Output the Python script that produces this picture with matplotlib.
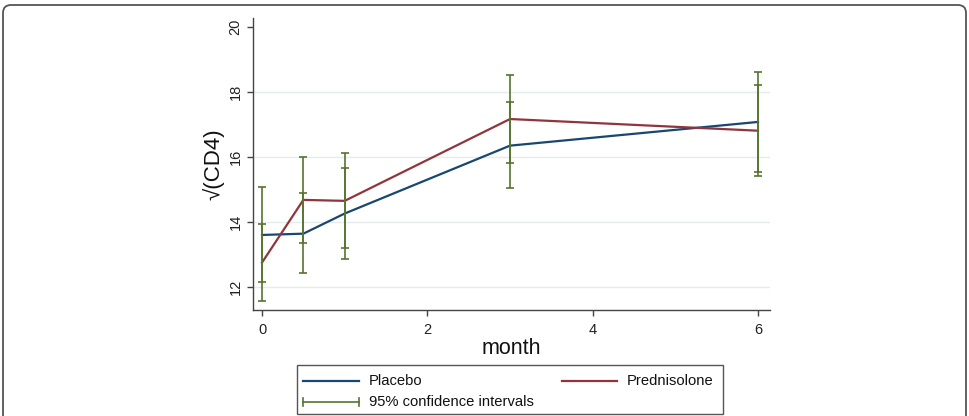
import matplotlib
matplotlib.use("Agg")
import matplotlib.pyplot as plt
from matplotlib.patches import FancyBboxPatch, Rectangle
from matplotlib.lines import Line2D

plt.rcParams['font.family'] = ['Liberation Sans', 'DejaVu Sans']

months = [0, 0.5, 1, 3, 6]
placebo = [13.60, 13.64, 14.26, 16.35, 17.08]
placebo_lo = [12.14, 12.42, 12.86, 15.04, 15.53]
placebo_hi = [15.07, 14.90, 15.67, 17.68, 18.62]
pred = [12.75, 14.68, 14.65, 17.17, 16.81]
pred_lo = [11.57, 13.35, 13.21, 15.82, 15.42]
pred_hi = [13.93, 16.01, 16.11, 18.52, 18.22]
xticks = [0, 2, 4, 6]
yticks = [12, 14, 16, 18, 20]
labels = ["Placebo", "Prednisolone", "95% confidence intervals"]

BLUE = "#1a476f"
RED = "#90353b"
GREEN = "#55752f"

W, H = 970, 416
fig = plt.figure(figsize=(W / 100, H / 100), dpi=100)

# outer rounded frame
frame = FancyBboxPatch((0.03, -0.3), 9.63, 4.11 + 0.3,
                       boxstyle="round,pad=0,rounding_size=0.08",
                       transform=fig.dpi_scale_trans, fill=False,
                       edgecolor="#555555", linewidth=1.3, zorder=0)
fig.patches.append(frame)

ax = fig.add_axes([253 / W, 1 - 310 / H, (770 - 253) / W, (310 - 18) / H])
ax.set_xlim(-0.109, 6.145)
ax.set_ylim(11.29, 20.28)

for yv in yticks[:-1]:
    ax.axhline(yv, color="#e4ecee", lw=1.0, zorder=0)

ax.plot(months, placebo, color=BLUE, lw=1.6, zorder=3)
ax.plot(months, pred, color=RED, lw=1.6, zorder=3)

for lo, hi in ((placebo_lo, placebo_hi), (pred_lo, pred_hi)):
    mid = [(a + b) / 2 for a, b in zip(lo, hi)]
    err = [[m - a for m, a in zip(mid, lo)], [b - m for m, b in zip(mid, hi)]]
    ax.errorbar(months, mid, yerr=err, fmt="none", ecolor=GREEN,
                elinewidth=1.2, capsize=3, capthick=1.2, zorder=4)

for s in ("top", "right"):
    ax.spines[s].set_visible(False)
for s in ("left", "bottom"):
    ax.spines[s].set_color("#444444")
    ax.spines[s].set_linewidth(1.0)

ax.set_xticks(xticks)
ax.set_yticks(yticks)
ax.tick_params(axis="both", colors="#444444", labelcolor="#222222",
               labelsize=10.5, length=4, width=1.0)
ax.tick_params(axis="x", pad=5)
for lab in ax.get_yticklabels():
    lab.set_rotation(90)
    lab.set_va("center")
ax.set_xlabel("month", fontsize=15.5, labelpad=1, color="#111111")
ax.set_ylabel("\u221a(CD4)", fontsize=16, labelpad=3, color="#111111")

# legend box (manual)
lx0, lx1, ly0, ly1 = 297, 723, 365, 414
fig.patches.append(Rectangle((lx0 / W, 1 - ly1 / H), (lx1 - lx0) / W, (ly1 - ly0) / H,
                             transform=fig.transFigure, fill=False,
                             edgecolor="#555555", lw=1.0))

def fx(p):
    return p / W

def fy(p):
    return 1 - p / H

row1, row2 = 381, 402
fig.lines.append(Line2D([fx(303), fx(359)], [fy(row1), fy(row1)], color=BLUE, lw=1.6,
                        transform=fig.transFigure))
fig.text(fx(369), fy(row1), labels[0], fontsize=10.6, va="center", ha="left", color="#111111")
fig.lines.append(Line2D([fx(562), fx(617)], [fy(row1), fy(row1)], color=RED, lw=1.6,
                        transform=fig.transFigure))
fig.text(fx(627), fy(row1), labels[1], fontsize=10.6, va="center", ha="left", color="#111111")
fig.lines.append(Line2D([fx(303), fx(359)], [fy(row2), fy(row2)], color=GREEN, lw=1.2,
                        transform=fig.transFigure))
for xc in (303, 359):
    fig.lines.append(Line2D([fx(xc), fx(xc)], [fy(row2 - 4), fy(row2 + 4)], color=GREEN,
                            lw=1.2, transform=fig.transFigure))
fig.text(fx(369), fy(row2), labels[2], fontsize=10.6, va="center", ha="left", color="#111111")

fig.savefig("out.png", dpi=100, facecolor="white")
